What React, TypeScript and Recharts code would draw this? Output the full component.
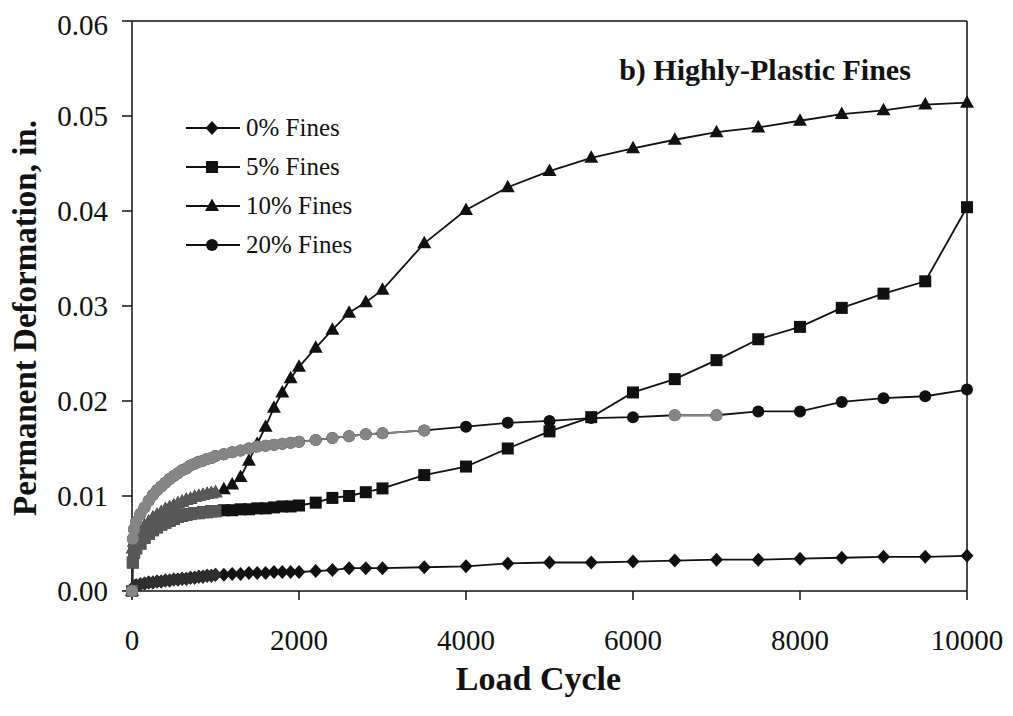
import React from 'react';
import { LineChart, Line, XAxis, YAxis, ReferenceLine } from 'recharts';

const cycles = [0, 10, 25, 50, 100, 150, 200, 250, 300, 350, 400, 450, 500, 550, 600, 650, 700, 750, 800, 850, 900, 950, 1000, 1100, 1200, 1300, 1400, 1500, 1600, 1700, 1800, 1900, 2000, 2200, 2400, 2600, 2800, 3000, 3500, 4000, 4500, 5000, 5500, 6000, 6500, 7000, 7500, 8000, 8500, 9000, 9500, 10000];

const fines0 = [0, 0.0003, 0.0005, 0.0006, 0.0007, 0.0008, 0.0009, 0.0009, 0.0010, 0.0010, 0.0011, 0.0011, 0.0012, 0.0012, 0.0013, 0.0013, 0.0014, 0.0014, 0.0015, 0.0015, 0.0016, 0.0016, 0.0017, 0.0017, 0.0018, 0.0018, 0.0019, 0.0019, 0.0019, 0.0020, 0.0020, 0.0020, 0.0020, 0.0021, 0.0022, 0.0024, 0.0024, 0.0024, 0.0025, 0.0026, 0.0029, 0.0030, 0.0030, 0.0031, 0.0032, 0.0033, 0.0033, 0.0034, 0.0035, 0.0036, 0.0036, 0.0037];

const fines5 = [0, 0.0030, 0.0040, 0.0045, 0.0050, 0.0056, 0.0060, 0.0064, 0.0067, 0.0070, 0.0072, 0.0074, 0.0076, 0.0078, 0.0079, 0.0080, 0.0081, 0.0082, 0.0082, 0.0083, 0.0083, 0.0084, 0.0084, 0.0085, 0.0085, 0.0086, 0.0086, 0.0087, 0.0087, 0.0088, 0.0089, 0.0089, 0.0090, 0.0093, 0.0098, 0.0100, 0.0104, 0.0108, 0.0122, 0.0131, 0.0150, 0.0168, 0.0183, 0.0209, 0.0223, 0.0243, 0.0265, 0.0278, 0.0298, 0.0313, 0.0326, 0.0404];

const fines10 = [0, 0.0045, 0.0052, 0.0058, 0.0064, 0.0069, 0.0073, 0.0077, 0.0080, 0.0083, 0.0086, 0.0088, 0.0090, 0.0092, 0.0094, 0.0096, 0.0097, 0.0099, 0.0100, 0.0101, 0.0102, 0.0103, 0.0104, 0.0107, 0.0112, 0.0120, 0.0137, 0.0155, 0.0173, 0.0193, 0.0209, 0.0224, 0.0236, 0.0256, 0.0275, 0.0293, 0.0304, 0.0317, 0.0366, 0.0401, 0.0425, 0.0442, 0.0456, 0.0466, 0.0475, 0.0483, 0.0488, 0.0495, 0.0502, 0.0506, 0.0512, 0.0514];

const fines20 = [0, 0.0055, 0.0065, 0.0073, 0.0081, 0.0088, 0.0095, 0.0101, 0.0106, 0.0110, 0.0114, 0.0118, 0.0121, 0.0124, 0.0127, 0.0129, 0.0132, 0.0134, 0.0136, 0.0137, 0.0139, 0.0140, 0.0142, 0.0144, 0.0146, 0.0148, 0.0150, 0.0152, 0.0153, 0.0154, 0.0155, 0.0156, 0.0157, 0.0159, 0.0161, 0.0163, 0.0165, 0.0166, 0.0169, 0.0173, 0.0177, 0.0179, 0.0182, 0.0183, 0.0185, 0.0185, 0.0189, 0.0189, 0.0199, 0.0203, 0.0205, 0.0212];

const xTicks = [0, 2000, 4000, 6000, 8000, 10000];
const yTicks = [0, 0.01, 0.02, 0.03, 0.04, 0.05, 0.06];

const seriesNames = ['0% Fines', '5% Fines', '10% Fines', '20% Fines'];

const rows = cycles.map((c, i) => ({
  cycle: c,
  f0: fines0[i],
  f5: fines5[i],
  f10: fines10[i],
  f20: fines20[i],
}));

const FONT = '"Liberation Serif", "Times New Roman", serif';

type Shape = 'diamond' | 'square' | 'triangle' | 'circle';

const Marker = ({ shape, cx, cy, color }: { shape: Shape; cx: number; cy: number; color: string }) => {
  if (shape === 'diamond') {
    return <polygon points={`${cx},${cy - 7} ${cx + 6.5},${cy} ${cx},${cy + 7} ${cx - 6.5},${cy}`} fill={color} stroke="none" />;
  }
  if (shape === 'square') {
    return <rect x={cx - 6} y={cy - 6} width={12} height={12} fill={color} stroke="none" />;
  }
  if (shape === 'triangle') {
    return <polygon points={`${cx},${cy - 7.5} ${cx + 7},${cy + 5} ${cx - 7},${cy + 5}`} fill={color} stroke="none" />;
  }
  return <circle cx={cx} cy={cy} r={6} fill={color} stroke="none" />;
};

const makeDot = (shape: Shape, color: string, id: string) => (props: any) => {
  const { cx, cy, index, value } = props;
  const k = `${id}-${index}`;
  if (cx == null || cy == null || value == null || Number.isNaN(cx) || Number.isNaN(cy)) return <g key={k} />;
  return <Marker key={k} shape={shape} cx={cx} cy={cy} color={color} />;
};

const SERIES: { key: string; name: string; shape: Shape }[] = [
  { key: 'f0', name: seriesNames[0], shape: 'diamond' },
  { key: 'f5', name: seriesNames[1], shape: 'square' },
  { key: 'f10', name: seriesNames[2], shape: 'triangle' },
  { key: 'f20', name: seriesNames[3], shape: 'circle' },
];

const XTitle = (props: any) => {
  const vb = props.viewBox || {};
  const cx = vb.x + vb.width / 2 - 11;
  const y = vb.y + 99;
  return (
    <text x={cx} y={y} textAnchor="middle" fontFamily={FONT} fontWeight="bold" fontSize={34} fill="#111">
      Load Cycle
    </text>
  );
};

const YTitle = (props: any) => {
  const vb = props.viewBox || {};
  const x = 28;
  const y = vb.y + vb.height / 2 + 12;
  return (
    <text x={x} y={y} transform={`rotate(-90, ${x}, ${y})`} textAnchor="middle" fontFamily={FONT} fontWeight="bold" fontSize={33} fill="#111">
      Permanent Deformation, in.
    </text>
  );
};

const tickStyle = { fill: '#111', fontFamily: FONT, fontSize: 29 };

export default function App() {
  const gray20 = (r: any) => (r.cycle <= 3500 || (r.cycle >= 6500 && r.cycle <= 7000) ? r.f20 : null);
  const early = (key: string) => (r: any) => (r.cycle <= 1000 ? r[key] : null);
  return (
    <div style={{ position: 'relative', width: 1005, height: 708 }}>
      <LineChart width={1005} height={708} data={rows} margin={{ top: 13, right: 46, bottom: 0, left: 0 }}>
        <XAxis
          dataKey="cycle"
          type="number"
          domain={[0, 10000]}
          ticks={xTicks}
          height={125}
          tickSize={9}
          tickMargin={29}
          tick={tickStyle}
          axisLine={{ stroke: '#111', strokeWidth: 1.5 }}
          tickLine={{ stroke: '#111', strokeWidth: 1.5 }}
          label={{ content: XTitle }}
        />
        <YAxis
          type="number"
          domain={[0, 0.06]}
          ticks={yTicks}
          width={124}
          tickSize={10}
          tickMargin={14}
          tick={tickStyle}
          tickFormatter={(v: number) => v.toFixed(2)}
          axisLine={{ stroke: '#111', strokeWidth: 1.5 }}
          tickLine={{ stroke: '#111', strokeWidth: 1.5 }}
          label={{ content: YTitle }}
        />
        <ReferenceLine y={0.06} stroke="#111" strokeWidth={1.5} />
        <ReferenceLine x={10000} stroke="#111" strokeWidth={1.5} />
        {SERIES.map((s) => (
          <Line
            key={s.key}
            dataKey={s.key}
            name={s.name}
            type="linear"
            stroke="#111"
            strokeWidth={1.8}
            dot={makeDot(s.shape, '#111', s.key)}
            activeDot={false}
            isAnimationActive={false}
          />
        ))}
        <Line dataKey={early('f0')} legendType="none" type="linear" stroke="#2e2e2e" strokeWidth={1.8} dot={makeDot('diamond', '#2e2e2e', 'g0')} activeDot={false} isAnimationActive={false} />
        <Line dataKey={early('f5')} legendType="none" type="linear" stroke="#585858" strokeWidth={1.8} dot={makeDot('square', '#585858', 'g5')} activeDot={false} isAnimationActive={false} />
        <Line dataKey={early('f10')} legendType="none" type="linear" stroke="#585858" strokeWidth={1.8} dot={makeDot('triangle', '#585858', 'g10')} activeDot={false} isAnimationActive={false} />
        <Line dataKey={gray20} legendType="none" type="linear" stroke="#858585" strokeWidth={1.8} dot={makeDot('circle', '#858585', 'g20')} activeDot={false} isAnimationActive={false} />
      </LineChart>
      <div style={{ position: 'absolute', left: 178, top: 100, fontFamily: FONT, fontSize: 25, color: '#111', pointerEvents: 'none' }}>
        {SERIES.map((s) => (
          <div key={s.key} style={{ display: 'flex', alignItems: 'center', height: 39 }}>
            <svg width={58} height={20}>
              <line x1={0} y1={10} x2={54} y2={10} stroke="#111" strokeWidth={1.8} />
              <Marker shape={s.shape} cx={26} cy={10} color="#111" />
            </svg>
            <span style={{ marginLeft: 2, lineHeight: '24px', whiteSpace: 'nowrap' }}>{s.name}</span>
          </div>
        ))}
      </div>
      <svg width={1005} height={708} style={{ position: 'absolute', left: 0, top: 0, pointerEvents: 'none' }}>
        <text x={757} y={72} textAnchor="middle" fontFamily={FONT} fontWeight="bold" fontSize={30} fill="#111">
          b) Highly-Plastic Fines
        </text>
      </svg>
    </div>
  );
}
